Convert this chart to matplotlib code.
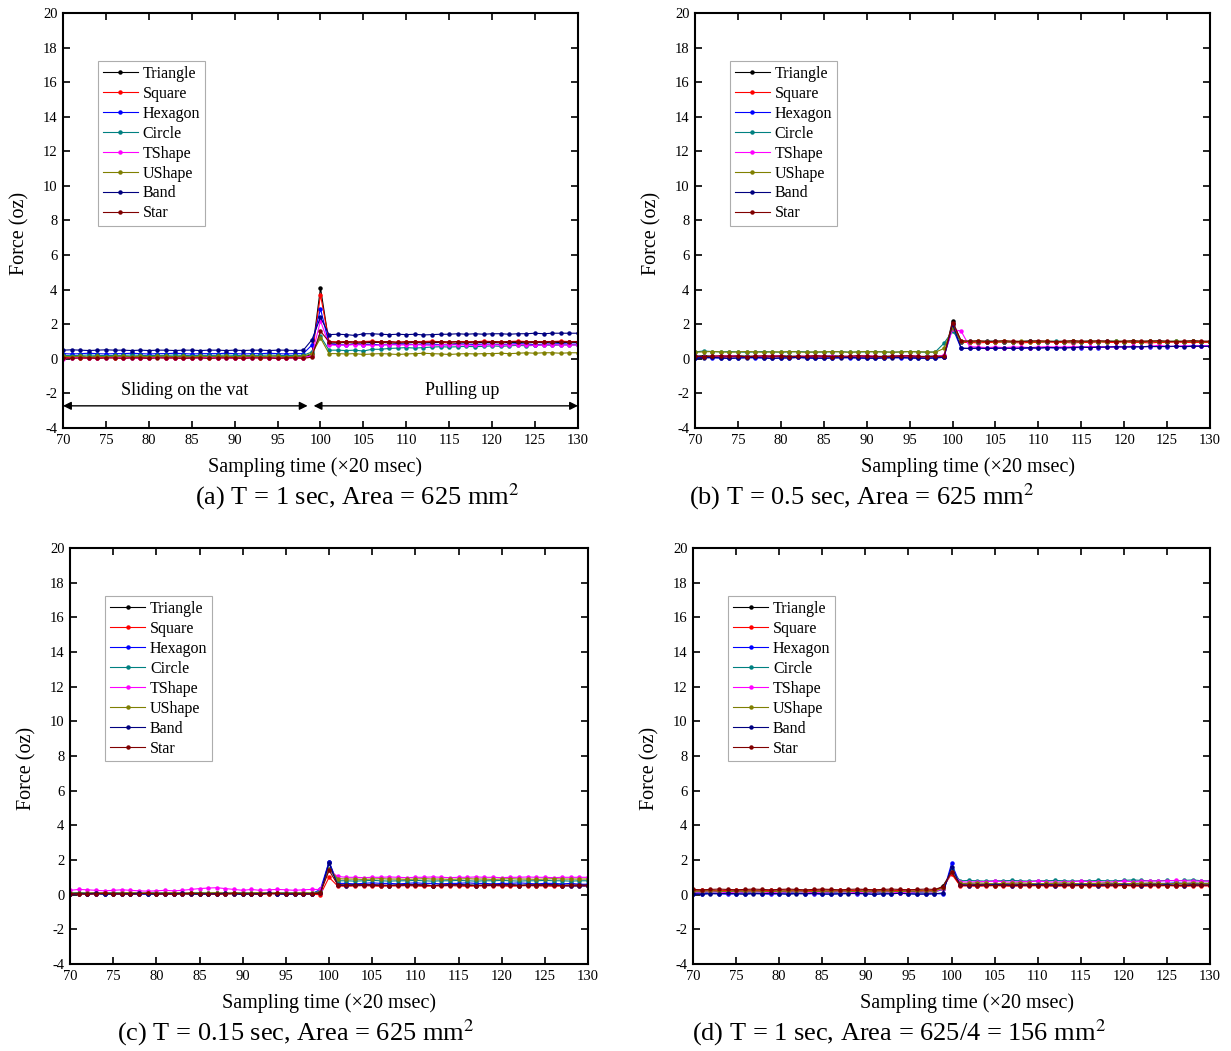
import numpy as np
import matplotlib
matplotlib.use("Agg")
import matplotlib.pyplot as plt

plt.rcParams['font.family'] = ['Liberation Serif', 'DejaVu Serif']
plt.rcParams['mathtext.fontset'] = 'stix'
plt.rcParams['axes.unicode_minus'] = False

# sampling time 70..130 (x20 msec)
time = np.arange(70, 131)

series_names = ['Triangle', 'Square', 'Hexagon', 'Circle', 'TShape', 'UShape', 'Band', 'Star']
series_colors = ['#000000', '#ff0000', '#0000ff', '#008080', '#ff00ff', '#808000', '#000080', '#800000']

captions = ['(a) T = 1 sec, Area = 625 mm$^2$',
            '(b) T = 0.5 sec, Area = 625 mm$^2$',
            '(c) T = 0.15 sec, Area = 625 mm$^2$',
            '(d) T = 1 sec, Area = 625/4 = 156 mm$^2$']

# (a) T = 1 sec, 625 mm2  -- one row per shape, 61 samples each
force_a = [
    [0.10, 0.12, 0.10, 0.08, 0.10, 0.12, 0.10, 0.10, 0.12, 0.10,
     0.08, 0.10, 0.10, 0.12, 0.10, 0.10, 0.08, 0.10, 0.12, 0.10,
     0.10, 0.10, 0.12, 0.10, 0.08, 0.10, 0.10, 0.12, 0.10, 0.25,
     4.10, 0.90, 0.92, 0.95, 0.90, 0.92, 0.95, 0.95, 0.92, 0.90,
     0.92, 0.95, 0.92, 0.95, 0.95, 0.92, 0.90, 0.95, 0.92, 0.95,
     0.95, 0.92, 0.95, 0.95, 0.92, 0.95, 0.95, 0.92, 0.95, 0.95,
     0.95],
    [0.05, 0.08, 0.05, 0.02, 0.05, 0.08, 0.05, 0.05, 0.08, 0.05,
     0.05, 0.08, 0.05, 0.05, 0.02, 0.05, 0.08, 0.05, 0.05, 0.08,
     0.05, 0.05, 0.08, 0.05, 0.05, 0.02, 0.05, 0.08, 0.05, 0.15,
     3.70, 1.00, 0.98, 1.00, 0.95, 1.00, 1.02, 0.98, 1.00, 0.95,
     1.00, 0.98, 1.00, 1.02, 0.98, 0.95, 1.00, 1.00, 0.98, 1.02,
     1.00, 0.98, 1.00, 1.02, 1.00, 0.98, 1.00, 1.00, 1.02, 1.00,
     1.00],
    [0.30, 0.28, 0.30, 0.32, 0.30, 0.28, 0.30, 0.30, 0.32, 0.30,
     0.28, 0.30, 0.30, 0.32, 0.30, 0.28, 0.30, 0.30, 0.30, 0.32,
     0.30, 0.28, 0.30, 0.30, 0.32, 0.30, 0.28, 0.30, 0.30, 0.80,
     2.90, 0.85, 0.82, 0.80, 0.85, 0.82, 0.85, 0.80, 0.82, 0.85,
     0.85, 0.82, 0.85, 0.85, 0.82, 0.80, 0.85, 0.85, 0.82, 0.85,
     0.85, 0.82, 0.85, 0.88, 0.85, 0.82, 0.85, 0.85, 0.88, 0.85,
     0.85],
    [0.20, 0.18, 0.20, 0.22, 0.20, 0.18, 0.20, 0.20, 0.22, 0.20,
     0.18, 0.20, 0.20, 0.22, 0.20, 0.18, 0.20, 0.20, 0.20, 0.22,
     0.20, 0.18, 0.20, 0.20, 0.22, 0.20, 0.18, 0.20, 0.20, 0.40,
     1.30, 0.50, 0.50, 0.48, 0.50, 0.45, 0.55, 0.55, 0.60, 0.62,
     0.65, 0.62, 0.65, 0.68, 0.70, 0.68, 0.70, 0.72, 0.70, 0.72,
     0.75, 0.72, 0.75, 0.78, 0.75, 0.78, 0.80, 0.78, 0.80, 0.80,
     0.80],
    [0.00, 0.05, 0.08, 0.05, 0.02, 0.05, 0.08, 0.05, 0.05, 0.02,
     0.05, 0.08, 0.05, 0.05, 0.02, 0.05, 0.05, 0.08, 0.05, 0.05,
     0.02, 0.05, 0.05, 0.08, 0.05, 0.05, 0.02, 0.05, 0.05, 0.20,
     2.20, 0.80, 0.78, 0.80, 0.82, 0.80, 0.78, 0.80, 0.82, 0.80,
     0.80, 0.82, 0.80, 0.78, 0.80, 0.82, 0.80, 0.80, 0.78, 0.80,
     0.82, 0.80, 0.80, 0.82, 0.80, 0.78, 0.80, 0.82, 0.80, 0.80,
     0.80],
    [0.15, 0.12, 0.15, 0.10, 0.15, 0.12, 0.15, 0.15, 0.12, 0.15,
     0.12, 0.15, 0.15, 0.12, 0.15, 0.10, 0.15, 0.12, 0.15, 0.15,
     0.12, 0.15, 0.15, 0.12, 0.15, 0.15, 0.12, 0.15, 0.15, 0.30,
     1.20, 0.30, 0.30, 0.28, 0.30, 0.25, 0.28, 0.30, 0.28, 0.25,
     0.28, 0.30, 0.32, 0.30, 0.28, 0.25, 0.28, 0.30, 0.28, 0.30,
     0.30, 0.32, 0.30, 0.32, 0.35, 0.32, 0.35, 0.35, 0.32, 0.35,
     0.35],
    [0.50, 0.52, 0.50, 0.48, 0.50, 0.52, 0.50, 0.50, 0.48, 0.50,
     0.48, 0.50, 0.50, 0.48, 0.50, 0.50, 0.48, 0.50, 0.50, 0.48,
     0.50, 0.48, 0.50, 0.50, 0.48, 0.50, 0.50, 0.48, 0.50, 1.10,
     2.40, 1.40, 1.42, 1.40, 1.35, 1.45, 1.45, 1.42, 1.40, 1.42,
     1.40, 1.42, 1.38, 1.40, 1.42, 1.42, 1.45, 1.42, 1.45, 1.42,
     1.45, 1.45, 1.42, 1.45, 1.45, 1.48, 1.45, 1.48, 1.48, 1.48,
     1.48],
    [0.05, 0.02, 0.05, 0.05, 0.02, 0.05, 0.05, 0.02, 0.05, 0.05,
     0.02, 0.05, 0.05, 0.05, 0.02, 0.05, 0.05, 0.02, 0.05, 0.05,
     0.05, 0.02, 0.05, 0.05, 0.05, 0.02, 0.05, 0.05, 0.02, 0.10,
     1.60, 0.98, 0.95, 1.00, 0.98, 0.95, 1.00, 0.98, 1.00, 0.95,
     0.98, 1.00, 0.95, 0.98, 1.00, 0.98, 1.00, 0.95, 1.00, 0.98,
     1.00, 0.98, 1.00, 1.00, 0.98, 1.00, 0.98, 1.00, 1.00, 0.98,
     1.00],
]

# (b) T = 0.5 sec, 625 mm2
force_b = [
    [0.15, 0.18, 0.15, 0.12, 0.15, 0.18, 0.15, 0.15, 0.12, 0.15,
     0.18, 0.15, 0.15, 0.12, 0.15, 0.15, 0.18, 0.15, 0.12, 0.15,
     0.15, 0.12, 0.15, 0.15, 0.18, 0.15, 0.12, 0.15, 0.15, 0.10,
     2.20, 1.00, 0.98, 1.00, 1.02, 1.00, 0.98, 1.00, 1.00, 1.02,
     1.00, 0.98, 1.00, 1.00, 1.02, 1.00, 0.98, 1.00, 1.02, 1.00,
     1.00, 0.98, 1.00, 1.02, 1.00, 1.00, 0.98, 1.00, 1.02, 1.00,
     1.00],
    [0.10, 0.12, 0.10, 0.08, 0.10, 0.12, 0.10, 0.10, 0.08, 0.10,
     0.12, 0.10, 0.10, 0.08, 0.10, 0.10, 0.12, 0.10, 0.08, 0.10,
     0.10, 0.08, 0.10, 0.10, 0.12, 0.10, 0.08, 0.10, 0.10, 0.12,
     2.00, 0.95, 0.95, 0.92, 0.95, 0.95, 0.98, 0.95, 0.92, 0.95,
     0.95, 0.98, 0.95, 0.95, 0.92, 0.95, 0.95, 0.98, 0.95, 0.95,
     0.98, 0.95, 0.95, 0.92, 0.95, 0.95, 0.98, 0.95, 0.95, 0.95,
     0.95],
    [0.05, 0.08, 0.05, 0.05, 0.02, 0.05, 0.08, 0.05, 0.05, 0.02,
     0.05, 0.05, 0.08, 0.05, 0.02, 0.05, 0.05, 0.08, 0.05, 0.05,
     0.02, 0.05, 0.05, 0.08, 0.05, 0.05, 0.02, 0.05, 0.05, 0.10,
     1.80, 0.60, 0.60, 0.62, 0.60, 0.60, 0.62, 0.62, 0.60, 0.62,
     0.62, 0.65, 0.62, 0.65, 0.65, 0.65, 0.68, 0.65, 0.68, 0.68,
     0.70, 0.68, 0.70, 0.70, 0.72, 0.70, 0.72, 0.72, 0.75, 0.75,
     0.75],
    [0.40, 0.45, 0.42, 0.40, 0.42, 0.40, 0.38, 0.40, 0.42, 0.40,
     0.38, 0.40, 0.42, 0.40, 0.38, 0.40, 0.40, 0.42, 0.38, 0.40,
     0.40, 0.42, 0.40, 0.38, 0.40, 0.42, 0.40, 0.38, 0.40, 0.90,
     1.60, 1.00, 1.02, 1.00, 1.00, 1.02, 1.00, 0.98, 1.00, 1.02,
     1.00, 1.00, 1.02, 1.00, 0.98, 1.00, 1.02, 1.00, 1.00, 1.02,
     1.00, 1.02, 1.00, 1.00, 1.02, 1.00, 1.02, 1.00, 1.02, 1.00,
     1.00],
    [0.15, 0.12, 0.15, 0.15, 0.18, 0.15, 0.12, 0.15, 0.15, 0.18,
     0.15, 0.12, 0.15, 0.15, 0.18, 0.15, 0.15, 0.12, 0.15, 0.15,
     0.18, 0.15, 0.12, 0.15, 0.15, 0.18, 0.15, 0.12, 0.15, 0.20,
     1.70, 1.60, 0.70, 0.68, 0.65, 0.68, 0.65, 0.68, 0.68, 0.65,
     0.68, 0.70, 0.68, 0.68, 0.70, 0.68, 0.70, 0.70, 0.68, 0.70,
     0.70, 0.72, 0.70, 0.72, 0.78, 0.72, 0.72, 0.75, 0.72, 0.75,
     0.75],
    [0.38, 0.40, 0.42, 0.40, 0.38, 0.40, 0.42, 0.40, 0.38, 0.40,
     0.40, 0.42, 0.40, 0.38, 0.40, 0.40, 0.42, 0.40, 0.38, 0.40,
     0.42, 0.40, 0.40, 0.38, 0.40, 0.42, 0.40, 0.40, 0.38, 0.60,
     1.80, 1.02, 1.00, 1.02, 1.00, 1.00, 1.02, 1.00, 1.02, 1.00,
     1.00, 1.02, 1.00, 1.00, 1.02, 1.00, 1.02, 1.00, 1.00, 1.02,
     1.00, 1.02, 1.00, 1.02, 1.00, 1.00, 1.02, 1.00, 1.02, 1.00,
     1.00],
    [0.05, 0.05, 0.08, 0.05, 0.02, 0.05, 0.05, 0.08, 0.05, 0.02,
     0.05, 0.05, 0.08, 0.05, 0.05, 0.02, 0.05, 0.05, 0.08, 0.05,
     0.05, 0.02, 0.05, 0.05, 0.08, 0.05, 0.05, 0.02, 0.05, 0.08,
     2.00, 0.62, 0.60, 0.62, 0.60, 0.62, 0.62, 0.60, 0.62, 0.65,
     0.62, 0.65, 0.65, 0.62, 0.65, 0.68, 0.65, 0.68, 0.68, 0.70,
     0.68, 0.70, 0.70, 0.72, 0.70, 0.72, 0.72, 0.70, 0.72, 0.72,
     0.72],
    [0.15, 0.12, 0.15, 0.18, 0.15, 0.15, 0.12, 0.15, 0.18, 0.15,
     0.15, 0.12, 0.15, 0.15, 0.18, 0.15, 0.12, 0.15, 0.15, 0.18,
     0.15, 0.15, 0.12, 0.15, 0.15, 0.18, 0.15, 0.12, 0.15, 0.15,
     2.10, 1.05, 1.02, 1.05, 1.00, 1.02, 1.05, 1.02, 1.00, 1.02,
     1.05, 1.02, 1.00, 1.02, 1.05, 1.02, 1.02, 1.05, 1.02, 1.00,
     1.02, 1.05, 1.02, 1.02, 1.05, 1.02, 1.00, 1.02, 1.05, 1.02,
     1.02],
]

# (c) T = 0.15 sec, 625 mm2
force_c = [
    [0.05, 0.08, 0.05, 0.05, 0.02, 0.05, 0.08, 0.05, 0.05, 0.02,
     0.05, 0.08, 0.05, 0.05, 0.02, 0.05, 0.05, 0.08, 0.05, 0.05,
     0.02, 0.05, 0.05, 0.08, 0.05, 0.05, 0.02, 0.05, 0.05, 0.10,
     1.90, 0.55, 0.55, 0.58, 0.55, 0.55, 0.52, 0.55, 0.55, 0.58,
     0.55, 0.55, 0.52, 0.55, 0.55, 0.58, 0.55, 0.55, 0.52, 0.55,
     0.55, 0.58, 0.55, 0.55, 0.52, 0.55, 0.58, 0.55, 0.55, 0.55,
     0.55],
    [0.05, 0.02, 0.05, 0.05, 0.08, 0.05, 0.02, 0.05, 0.05, 0.08,
     0.05, 0.02, 0.05, 0.05, 0.05, 0.08, 0.05, 0.02, 0.05, 0.05,
     0.08, 0.05, 0.02, 0.05, 0.05, 0.05, 0.08, 0.05, 0.02, 0.00,
     1.00, 0.50, 0.48, 0.50, 0.52, 0.50, 0.48, 0.50, 0.50, 0.52,
     0.50, 0.48, 0.50, 0.50, 0.52, 0.50, 0.48, 0.50, 0.50, 0.52,
     0.50, 0.48, 0.50, 0.52, 0.50, 0.50, 0.48, 0.50, 0.50, 0.50,
     0.50],
    [0.05, 0.08, 0.05, 0.05, 0.05, 0.08, 0.05, 0.05, 0.02, 0.05,
     0.08, 0.05, 0.05, 0.05, 0.08, 0.05, 0.02, 0.05, 0.05, 0.08,
     0.05, 0.05, 0.05, 0.08, 0.05, 0.05, 0.02, 0.05, 0.05, 0.30,
     1.90, 0.65, 0.65, 0.62, 0.65, 0.68, 0.65, 0.65, 0.62, 0.65,
     0.68, 0.65, 0.65, 0.62, 0.65, 0.65, 0.68, 0.65, 0.65, 0.62,
     0.65, 0.65, 0.68, 0.65, 0.62, 0.65, 0.65, 0.62, 0.65, 0.60,
     0.60],
    [0.10, 0.12, 0.10, 0.08, 0.10, 0.12, 0.10, 0.10, 0.08, 0.10,
     0.12, 0.10, 0.10, 0.08, 0.10, 0.12, 0.10, 0.10, 0.08, 0.10,
     0.12, 0.10, 0.10, 0.08, 0.10, 0.12, 0.10, 0.10, 0.08, 0.20,
     1.50, 0.80, 0.80, 0.78, 0.80, 0.82, 0.80, 0.78, 0.80, 0.80,
     0.82, 0.80, 0.78, 0.80, 0.80, 0.82, 0.80, 0.78, 0.80, 0.80,
     0.82, 0.80, 0.78, 0.80, 0.80, 0.82, 0.80, 0.80, 0.78, 0.80,
     0.80],
    [0.25, 0.30, 0.28, 0.25, 0.22, 0.25, 0.28, 0.25, 0.22, 0.20,
     0.22, 0.25, 0.22, 0.25, 0.30, 0.35, 0.38, 0.40, 0.35, 0.30,
     0.25, 0.30, 0.25, 0.28, 0.30, 0.28, 0.25, 0.28, 0.30, 0.30,
     1.40, 1.05, 1.00, 1.00, 0.98, 1.00, 1.00, 1.02, 1.00, 0.98,
     1.00, 1.00, 1.02, 1.00, 0.98, 1.00, 1.00, 1.02, 1.00, 1.00,
     0.98, 1.00, 1.00, 1.02, 1.00, 1.00, 0.98, 1.00, 1.00, 1.00,
     1.00],
    [0.10, 0.08, 0.10, 0.12, 0.10, 0.08, 0.10, 0.12, 0.10, 0.10,
     0.08, 0.10, 0.12, 0.10, 0.10, 0.08, 0.10, 0.12, 0.10, 0.10,
     0.08, 0.10, 0.12, 0.10, 0.10, 0.08, 0.10, 0.12, 0.10, 0.15,
     1.50, 0.92, 0.90, 0.90, 0.88, 0.90, 0.92, 0.90, 0.90, 0.88,
     0.90, 0.92, 0.90, 0.90, 0.88, 0.90, 0.92, 0.90, 0.90, 0.88,
     0.90, 0.92, 0.90, 0.90, 0.88, 0.90, 0.92, 0.90, 0.90, 0.90,
     0.90],
    [0.02, 0.05, 0.05, 0.08, 0.05, 0.02, 0.05, 0.05, 0.08, 0.05,
     0.02, 0.05, 0.05, 0.08, 0.05, 0.02, 0.05, 0.05, 0.08, 0.05,
     0.02, 0.05, 0.05, 0.08, 0.05, 0.02, 0.05, 0.05, 0.05, 0.10,
     1.80, 0.55, 0.52, 0.55, 0.55, 0.58, 0.55, 0.52, 0.55, 0.55,
     0.58, 0.55, 0.52, 0.55, 0.55, 0.58, 0.55, 0.52, 0.55, 0.55,
     0.58, 0.55, 0.52, 0.55, 0.55, 0.58, 0.55, 0.52, 0.50, 0.50,
     0.50],
    [0.05, 0.05, 0.02, 0.05, 0.08, 0.05, 0.05, 0.02, 0.05, 0.08,
     0.05, 0.05, 0.02, 0.05, 0.08, 0.05, 0.05, 0.02, 0.05, 0.08,
     0.05, 0.05, 0.02, 0.05, 0.08, 0.05, 0.05, 0.02, 0.05, 0.10,
     1.40, 0.58, 0.55, 0.55, 0.58, 0.55, 0.55, 0.52, 0.55, 0.58,
     0.55, 0.55, 0.52, 0.55, 0.58, 0.55, 0.55, 0.52, 0.55, 0.58,
     0.55, 0.55, 0.52, 0.55, 0.58, 0.55, 0.55, 0.52, 0.55, 0.55,
     0.55],
]

# (d) T = 1 sec, 156 mm2
force_d = [
    [0.20, 0.22, 0.20, 0.18, 0.20, 0.22, 0.20, 0.18, 0.20, 0.22,
     0.20, 0.20, 0.18, 0.20, 0.22, 0.20, 0.20, 0.18, 0.20, 0.22,
     0.20, 0.20, 0.18, 0.20, 0.22, 0.20, 0.18, 0.20, 0.20, 0.50,
     1.30, 0.55, 0.55, 0.52, 0.55, 0.55, 0.58, 0.55, 0.52, 0.55,
     0.55, 0.58, 0.55, 0.55, 0.52, 0.55, 0.55, 0.58, 0.55, 0.55,
     0.52, 0.55, 0.55, 0.58, 0.55, 0.55, 0.52, 0.55, 0.55, 0.55,
     0.55],
    [0.25, 0.28, 0.25, 0.22, 0.25, 0.28, 0.25, 0.25, 0.22, 0.25,
     0.28, 0.25, 0.25, 0.22, 0.25, 0.28, 0.25, 0.25, 0.22, 0.25,
     0.28, 0.25, 0.25, 0.22, 0.25, 0.28, 0.25, 0.22, 0.25, 0.40,
     1.20, 0.50, 0.50, 0.48, 0.50, 0.52, 0.50, 0.48, 0.50, 0.50,
     0.52, 0.50, 0.48, 0.50, 0.50, 0.52, 0.50, 0.48, 0.50, 0.50,
     0.52, 0.50, 0.48, 0.50, 0.50, 0.52, 0.50, 0.48, 0.50, 0.50,
     0.50],
    [0.05, 0.05, 0.08, 0.05, 0.02, 0.05, 0.05, 0.08, 0.05, 0.02,
     0.05, 0.05, 0.08, 0.05, 0.05, 0.02, 0.05, 0.05, 0.08, 0.05,
     0.05, 0.02, 0.05, 0.05, 0.08, 0.05, 0.05, 0.02, 0.05, 0.05,
     1.80, 0.60, 0.62, 0.60, 0.60, 0.62, 0.60, 0.62, 0.60, 0.60,
     0.62, 0.60, 0.60, 0.62, 0.60, 0.62, 0.60, 0.60, 0.62, 0.65,
     0.62, 0.65, 0.65, 0.62, 0.65, 0.65, 0.68, 0.65, 0.65, 0.65,
     0.65],
    [0.15, 0.12, 0.15, 0.15, 0.18, 0.15, 0.12, 0.15, 0.15, 0.18,
     0.15, 0.12, 0.15, 0.15, 0.18, 0.15, 0.12, 0.15, 0.15, 0.18,
     0.15, 0.12, 0.15, 0.15, 0.18, 0.15, 0.12, 0.15, 0.15, 0.30,
     1.40, 0.80, 0.82, 0.80, 0.78, 0.80, 0.80, 0.82, 0.80, 0.78,
     0.80, 0.80, 0.82, 0.80, 0.78, 0.80, 0.80, 0.82, 0.80, 0.80,
     0.82, 0.85, 0.82, 0.80, 0.80, 0.82, 0.80, 0.82, 0.85, 0.80,
     0.80],
    [0.15, 0.15, 0.18, 0.15, 0.12, 0.15, 0.15, 0.18, 0.15, 0.12,
     0.15, 0.15, 0.18, 0.15, 0.12, 0.15, 0.15, 0.18, 0.15, 0.12,
     0.15, 0.15, 0.18, 0.15, 0.12, 0.15, 0.15, 0.18, 0.15, 0.35,
     1.30, 0.75, 0.72, 0.75, 0.75, 0.78, 0.75, 0.72, 0.75, 0.75,
     0.78, 0.75, 0.72, 0.75, 0.75, 0.78, 0.75, 0.75, 0.72, 0.75,
     0.78, 0.75, 0.78, 0.80, 0.78, 0.80, 0.82, 0.80, 0.78, 0.78,
     0.78],
    [0.20, 0.20, 0.22, 0.20, 0.18, 0.20, 0.20, 0.22, 0.20, 0.18,
     0.20, 0.20, 0.22, 0.20, 0.18, 0.20, 0.20, 0.22, 0.20, 0.18,
     0.20, 0.20, 0.22, 0.20, 0.18, 0.20, 0.20, 0.22, 0.20, 0.40,
     1.30, 0.65, 0.65, 0.68, 0.65, 0.62, 0.65, 0.65, 0.68, 0.65,
     0.62, 0.65, 0.65, 0.68, 0.65, 0.62, 0.65, 0.65, 0.68, 0.65,
     0.62, 0.65, 0.65, 0.68, 0.65, 0.62, 0.65, 0.65, 0.68, 0.65,
     0.65],
    [0.05, 0.02, 0.05, 0.05, 0.08, 0.05, 0.02, 0.05, 0.05, 0.08,
     0.05, 0.02, 0.05, 0.05, 0.08, 0.05, 0.02, 0.05, 0.05, 0.08,
     0.05, 0.02, 0.05, 0.05, 0.08, 0.05, 0.02, 0.05, 0.05, 0.10,
     1.60, 0.55, 0.52, 0.55, 0.55, 0.58, 0.55, 0.52, 0.55, 0.55,
     0.58, 0.55, 0.52, 0.55, 0.55, 0.58, 0.55, 0.52, 0.55, 0.55,
     0.58, 0.55, 0.52, 0.55, 0.55, 0.58, 0.55, 0.52, 0.55, 0.55,
     0.55],
    [0.30, 0.28, 0.30, 0.32, 0.30, 0.28, 0.30, 0.32, 0.30, 0.28,
     0.30, 0.32, 0.30, 0.28, 0.30, 0.32, 0.30, 0.28, 0.30, 0.32,
     0.30, 0.28, 0.30, 0.32, 0.30, 0.28, 0.30, 0.32, 0.30, 0.45,
     1.30, 0.55, 0.55, 0.58, 0.55, 0.52, 0.55, 0.55, 0.58, 0.55,
     0.52, 0.55, 0.55, 0.58, 0.55, 0.52, 0.55, 0.55, 0.58, 0.55,
     0.52, 0.55, 0.55, 0.58, 0.55, 0.52, 0.55, 0.55, 0.58, 0.55,
     0.55],
]

panels = [force_a, force_b, force_c, force_d]

# axes rectangles in figure fraction [left, bottom, width, height]
rects = [
    [0.0512, 0.5928, 0.4183, 0.3948],
    [0.5646, 0.5928, 0.4184, 0.3948],
    [0.0569, 0.0828, 0.4208, 0.3958],
    [0.5630, 0.0828, 0.4200, 0.3958],
]
caption_pos = [(0.290, 0.527), (0.700, 0.527), (0.240, 0.017), (0.730, 0.017)]
xlabel_x = [0.49, 0.53, 0.50, 0.53]

fig = plt.figure(figsize=(12.31, 10.51), dpi=100)

for k, data in enumerate(panels):
    ax = fig.add_axes(rects[k])
    for name, color, vals in zip(series_names, series_colors, data):
        ax.plot(time, vals, color=color, lw=0.8, marker='o', markersize=2.2,
                label=name)
    ax.set_xlim(70, 130)
    ax.set_ylim(-4, 20)
    ax.set_xticks(np.arange(70, 131, 5))
    ax.set_yticks(np.arange(-4, 21, 2))
    ax.tick_params(direction='in', top=True, right=True, length=5, width=1.2,
                   labelsize=10.5, pad=4)
    for sp in ax.spines.values():
        sp.set_linewidth(1.5)
    ax.set_xlabel('Sampling time (\u00d720 msec)', fontsize=14.5)
    ax.xaxis.set_label_coords(xlabel_x[k], -0.07)
    ax.set_ylabel('Force (oz)', fontsize=14.5)
    ax.yaxis.set_label_coords(-0.065, 0.47)
    leg = ax.legend(loc='upper left', bbox_to_anchor=(0.068, 0.885),
                    fontsize=11.5, frameon=True, fancybox=False,
                    handlelength=2.2, handletextpad=0.3, labelspacing=0.25,
                    borderpad=0.3, borderaxespad=0)
    leg.get_frame().set_edgecolor('#999999')
    leg.get_frame().set_linewidth(0.8)
    fig.text(caption_pos[k][0], caption_pos[k][1], captions[k], fontsize=19,
             ha='center', va='center')

    if k == 0:
        ax.annotate('', xy=(70, -2.72), xytext=(98.5, -2.72),
                    arrowprops=dict(arrowstyle='<|-|>', color='black', lw=1,
                                    mutation_scale=12, shrinkA=0, shrinkB=0))
        ax.annotate('', xy=(99.2, -2.72), xytext=(130, -2.72),
                    arrowprops=dict(arrowstyle='<|-|>', color='black', lw=1,
                                    mutation_scale=12, shrinkA=0, shrinkB=0))
        ax.text(84.2, -1.85, 'Sliding on the vat', fontsize=13,
                ha='center', va='center')
        ax.text(116.5, -1.85, 'Pulling up', fontsize=13,
                ha='center', va='center')

fig.savefig('out.png', dpi=100)
